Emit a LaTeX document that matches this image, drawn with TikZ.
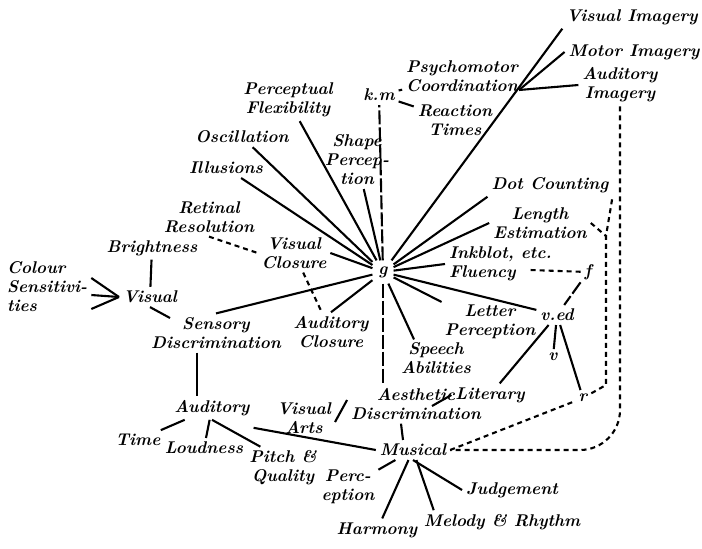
\documentclass[tikz,border=0pt]{standalone}
\newcommand{\hand}{\fontsize{17}{19}\selectfont\bfseries\itshape}
\begin{document}
\begin{tikzpicture}[x=1pt,y=-1pt,line width=2.1pt,
		lab/.style={font=\hand,align=center,inner sep=3pt},
		brk/.style={dash pattern=on 14pt off 3pt},
		dsh/.style={dash pattern=on 5pt off 4pt}]
		\useasboundingbox (0,0) rectangle (702,549);

		\node[lab,inner sep=5pt] (g) at (383,272) {g};

		\node[lab] (vi) at (632,17) {Visual Imagery};
		\node[lab] (mi) at (634,52) {Motor Imagery};
		\node[lab] (ai) at (620,85) {Auditory\\Imagery};
		\node[lab] (pc) at (462,76) {Psychomotor\\Coordination};
		\node[lab] (km) at (379,95) {k.m};
		\node[lab] (rt) at (455,120) {Reaction\\Times};
		\node[lab] (pf) at (288,100) {Perceptual\\Flexibility};
		\node[lab] (osc) at (242,137) {Oscillation};
		\node[lab] (shp) at (357,160) {Shape\\Percep-\\tion};
		\node[lab] (ill) at (226,168) {Illusions};
		\node[lab] (rr) at (209,217) {Retinal\\Resolution};
		\node[lab] (br) at (152,248) {Brightness};
		\node[lab] (vc) at (294,253) {Visual\\Closure};
		\node[lab,align=left,anchor=west] (cs) at (3,287) {Colour\\Sensitivi-\\ties};
		\node[lab] (vis) at (150,297) {Visual};
		\node[lab] (sd) at (216,333) {Sensory\\Discrimination};
		\node[lab] (ac) at (331,332) {Auditory\\Closure};

		\node[lab] (dot) at (550,185) {Dot Counting};
		\node[lab] (len) at (540,223) {Length\\Estimation};
		\node[lab,align=left,anchor=west] (ink) at (445,264) {Inkblot, etc.\\Fluency};
		\node[lab] (f) at (588,272) {f};
		\node[lab] (ved) at (557,315) {v.ed};
		\node[lab,inner sep=2pt] (let) at (490,322) {Letter\\Perception};
		\node[lab,inner sep=2pt] (sp) at (436,358) {Speech\\Abilities};
		\node[lab] (v) at (553,357) {v};
		\node[lab] (r) at (583,398) {r};
		\node[lab] (lit) at (490,395) {Literary};
		\node[lab] (ae) at (416,404) {Aesthetic\\Discrimination};
		\node[lab] (va) at (304,418) {Visual\\Arts};

		\node[lab] (aud) at (212,408) {Auditory};
		\node[lab] (mus) at (413,450) {Musical};
		\node[lab] (time) at (138,440) {Time};
		\node[lab] (loud) at (204,448) {Loudness};
		\node[lab] (pitch) at (283,468) {Pitch \&\\Quality};
		\node[lab] (perc) at (348,487) {Perc-\\eption};
		\node[lab] (har) at (377,530) {Harmony};
		\node[lab] (jud) at (512,490) {Judgement};
		\node[lab] (mel) at (502,522) {Melody \& Rhythm};

		\coordinate (img) at (519,90);
		\coordinate (flu) at (530,270);
		\coordinate (aer) at (432,406);
		\coordinate (jn) at (606,236);
		\coordinate (rc) at (606,385);

		\draw (g) -- (vi.south west);
		\draw (img) -- (mi.west);
		\draw (img) -- (ai.west);
		\draw (g) -- (dot.south west);
		\draw (g) -- (len.west);
		\draw (g) -- (ink.west);
		\draw (g) -- (ved);
		\draw (g) -- (let.north west);
		\draw (g) -- ([xshift=-22pt]sp.north);
		\draw (g) -- (ac.north);
		\draw (g) -- (vc.east);
		\draw (g) -- (sd.north);
		\draw (g) -- (ill);
		\draw (g) -- (osc);
		\draw (g) -- (pf);
		\draw (g) -- (shp);
		\draw[brk] (g) -- (km);
		\draw[brk] (g) -- (g |- ae.north);

		\draw (km) -- (pc);
		\draw (km) -- (rt);

		\draw (br) -- (vis);
		\draw (vis.west) -- ([yshift=9pt]cs.east);
		\draw (vis.west) -- ([yshift=-8pt]cs.east);
		\draw (vis.west) -- ([yshift=-22pt]cs.east);
		\draw (vis.south) -- ([xshift=-46pt,yshift=15pt]sd.center);
		\draw ([xshift=-19pt]sd.south) -- ([xshift=-15pt]aud.north);
		\draw[dsh] (rr.south) -- (vc.west);
		\draw[dsh] (vc) -- (ac);

		\draw (aud) -- (time);
		\draw (aud) -- (loud);
		\draw (aud.south) -- ([xshift=15pt]pitch.north west);
		\draw ([yshift=-8pt]aud.south east) -- (mus.west);

		\draw ([yshift=-4pt]va.east) -- ([yshift=4pt]ae.west);
		\draw (lit.west) -- (aer);
		\draw ([xshift=-15pt]ae.south) -- ([xshift=-10pt]mus.north);

		\draw (mus) -- (perc);
		\draw (mus) -- (har);
		\draw (mus.south) -- (jud.west);
		\draw (mus) -- ([xshift=14pt]mel.north west);

		\draw[dsh] (f) -- (flu);
		\draw[brk] (f) -- (ved);
		\draw (ved) -- (lit);
		\draw (ved) -- (v);
		\draw (ved) -- (r);

		\draw[dsh] (mus.east) -- (r);
		\draw[dsh] (r) -- (rc) -- (jn) -- (dot.south east);
		\draw[dsh] (len.east) -- (jn);
		\draw[dsh,rounded corners=40pt] (ai.south) |- (mus.east);
\end{tikzpicture}
\end{document}
